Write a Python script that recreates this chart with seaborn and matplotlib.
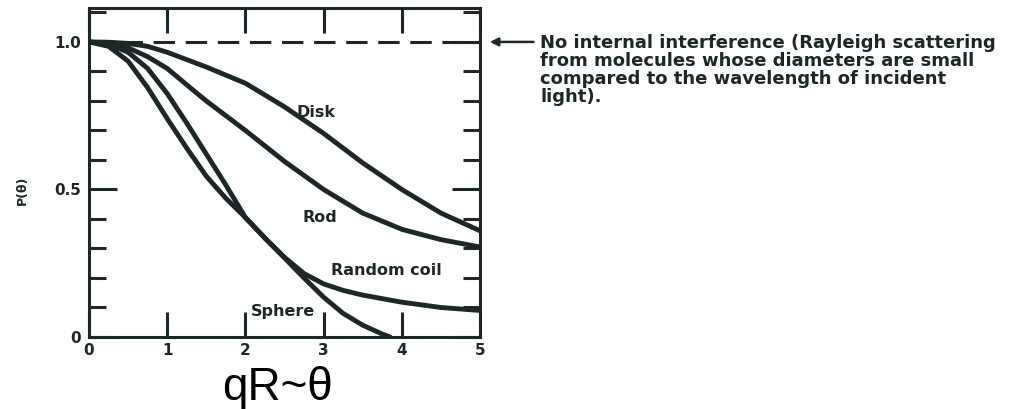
import pandas as pd
import matplotlib
matplotlib.use("Agg")
import matplotlib.pyplot as plt
import seaborn as sns
from matplotlib.ticker import MultipleLocator

# values
disk_x = [0, 0.25, 0.5, 0.75, 1.0, 1.5, 2.0, 2.5, 3.0, 3.5, 4.0, 4.5, 5.0]
disk_y = [1.0, 0.999, 0.995, 0.985, 0.965, 0.915, 0.86, 0.78, 0.69, 0.59, 0.50, 0.42, 0.36]

rod_x = [0, 0.25, 0.5, 0.75, 1.0, 1.33, 1.5, 2.0, 2.5, 3.0, 3.5, 4.0, 4.5, 5.0]
rod_y = [1.0, 0.995, 0.98, 0.95, 0.91, 0.837, 0.80, 0.70, 0.595, 0.50, 0.42, 0.365, 0.33, 0.305]

coil_x = [0, 0.25, 0.5, 0.75, 1.0, 1.25, 1.5, 1.75, 2.0, 2.25, 2.5, 2.75, 3.0, 3.25, 3.5, 4.0, 4.5, 5.0]
coil_y = [1.0, 0.993, 0.965, 0.91, 0.825, 0.725, 0.62, 0.515, 0.405, 0.335, 0.27, 0.215, 0.18, 0.158, 0.142, 0.118, 0.10, 0.09]

sphere_x = [0, 0.25, 0.5, 0.75, 1.0, 1.25, 1.5, 1.75, 2.0, 2.25, 2.5, 2.75, 3.0, 3.25, 3.5, 3.75, 3.85]
sphere_y = [1.0, 0.985, 0.935, 0.845, 0.74, 0.64, 0.545, 0.47, 0.405, 0.335, 0.268, 0.20, 0.135, 0.08, 0.04, 0.01, 0.0]

curve_names = ["Disk", "Rod", "Random coil", "Sphere"]
label_pos = {"Disk": (2.90, 0.76), "Rod": (2.95, 0.405), "Random coil": (3.80, 0.225), "Sphere": (2.48, 0.085)}

frames = []
for name, xs, ys in zip(curve_names, [disk_x, rod_x, coil_x, sphere_x], [disk_y, rod_y, coil_y, sphere_y]):
    frames.append(pd.DataFrame({"qR": xs, "P": ys, "shape": name}))
df = pd.concat(frames, ignore_index=True)

ink = "#1d2727"
sns.set_style("white")
plt.rcParams["font.family"] = ["DejaVu Sans"]

fig = plt.figure(figsize=(10.19, 4.09), dpi=100)
ax = fig.add_axes([89 / 1019, 72 / 409, 391 / 1019, 329 / 409])

sns.lineplot(data=df, x="qR", y="P", hue="shape", palette=[ink] * 4,
             sort=False, estimator=None, legend=False, linewidth=3.5, ax=ax)
ax.axhline(1.0, color=ink, lw=2.2, dashes=(7, 3.5))

for name in curve_names:
    x, y = label_pos[name]
    ax.text(x, y, name, ha="center", va="center", fontsize=11.5, fontweight="bold", color=ink)

ax.set_xlim(0, 5)
ax.set_ylim(0, 1.115)
ax.set_xticks([0, 1, 2, 3, 4, 5])
ax.set_yticks([0, 0.5, 1.0])
ax.set_yticklabels(["0", "0.5", "1.0"])
ax.yaxis.set_minor_locator(MultipleLocator(0.1))
ax.tick_params(axis="x", which="major", direction="in", length=18, width=2.2,
               top=True, bottom=True, pad=4, labelsize=11, colors=ink)
ax.tick_params(axis="y", which="major", direction="in", length=20, width=2.2,
               left=True, right=True, pad=6, labelsize=11, colors=ink)
ax.tick_params(axis="y", which="minor", direction="in", length=12, width=2.2,
               left=True, right=True)
for lab in ax.get_xticklabels() + ax.get_yticklabels():
    lab.set_fontweight("bold")
for sp in ax.spines.values():
    sp.set_linewidth(2.2)
    sp.set_color(ink)
ax.set_xlabel("")
ax.set_ylabel("")

fig.text(22 / 1019, 1 - 190 / 409, "P(θ)", rotation=90, ha="center", va="center",
         fontsize=9, fontweight="bold", color=ink)

ax.annotate("", xy=(5.09, 1.0), xytext=(5.72, 1.0), annotation_clip=False,
            arrowprops=dict(arrowstyle="-|>", lw=1.8, color=ink, mutation_scale=12))
fig.text(540 / 1019, 1 - 34 / 409,
         "No internal interference (Rayleigh scattering\n"
         "from molecules whose diameters are small\n"
         "compared to the wavelength of incident\n"
         "light).",
         ha="left", va="top", fontsize=13, fontweight="bold", color=ink, linespacing=1.0)

fig.text(278 / 1019, 9 / 409, "qR~θ", ha="center", va="baseline",
         fontsize=33, family=["Liberation Sans", "DejaVu Sans"], color="black")

fig.savefig("out.png", dpi=100, facecolor="white")
